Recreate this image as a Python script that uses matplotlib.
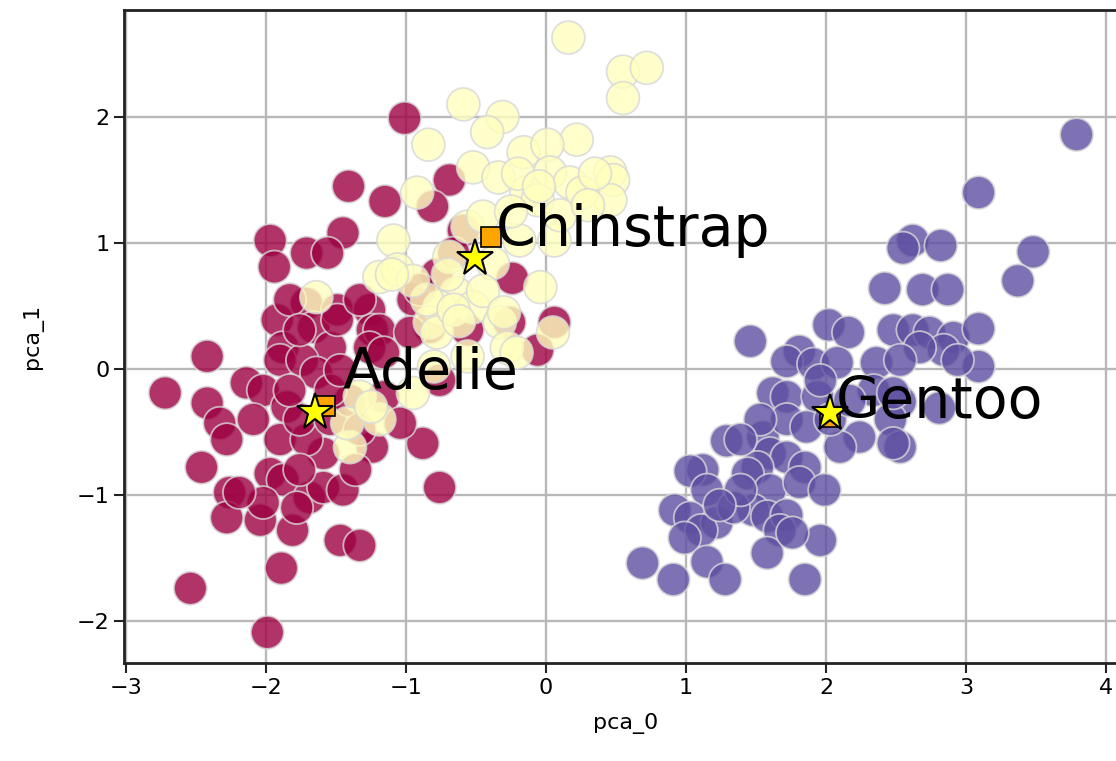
import numpy as np
import matplotlib
matplotlib.use("Agg")
import matplotlib.pyplot as plt

# PCA projection of the penguin measurements (pca_0, pca_1) per species
adelie_x = [-1.01, -1.41, -1.15, -0.69, -0.81, -1.45, -1.97, -1.71, -1.56, -1.94,
            -1.92, -1.71, -1.66, -1.49, -1.26, -1.24, -1.88, -2.42, -1.54, -2.72,
            -2.42, -2.33, -2.28, -2.46, -2.26, -2.28, -2.04, -1.81, -1.47, -1.33,
            -1.89, -2.54, -1.99, -2.14, -2.02, -2.09, -1.90, -1.85, -1.90, -1.74,
            -1.64, -1.97, -1.88, -1.69, -1.59, -1.45, -1.59, -1.71, -1.78, -2.02,
            -2.19, -1.16, -0.88, -1.24, -0.76, 0.06, -0.59, -0.24, -0.78, -0.95,
            -1.19, -0.26, -0.06, -0.83, -0.56, -0.76, -1.04, -1.26, -1.16, -0.97,
            -0.90, -0.66, -1.49, -1.76, -1.54, -1.40, -1.54, -1.76, -1.36, -1.33,
            -1.83, -1.47, -1.33, -1.83, -1.76]
adelie_y = [1.99, 1.45, 1.33, 1.50, 1.29, 1.08, 1.02, 0.92, 0.92, 0.81,
            0.39, 0.52, 0.33, 0.47, 0.47, 0.31, 0.17, 0.10, 0.17, -0.19,
            -0.27, -0.43, -0.56, -0.78, -0.98, -1.18, -1.20, -1.28, -1.36, -1.40,
            -1.58, -1.74, -2.09, -0.11, -0.17, -0.40, -0.56, -0.30, 0.07, 0.07,
            -0.03, -0.83, -0.88, -1.02, -0.94, -0.96, -0.67, -0.56, -1.10, -1.06,
            -0.98, -0.22, -0.59, -0.62, -0.94, 0.37, 1.10, 0.72, 0.75, 0.55,
            0.31, 0.37, 0.15, 0.33, 0.31, -0.09, -0.43, 0.17, 0.13, 0.29,
            0.63, 0.92, 0.39, -0.40, -0.40, -0.25, -0.17, -0.80, -0.80, -0.48,
            -0.17, -0.01, 0.55, 0.55, 0.31]

gentoo_x = [3.79, 3.09, 3.48, 3.37, 2.62, 2.82, 2.55, 2.42, 2.69, 2.87,
            1.46, 2.02, 2.16, 2.48, 2.62, 2.74, 2.91, 3.09, 3.09, 2.84,
            2.67, 2.36, 2.53, 1.81, 1.72, 1.91, 2.08, 1.62, 1.72, 1.94,
            2.34, 2.53, 2.81, 2.46, 2.24, 2.53, 2.10, 1.29, 1.55, 1.72,
            1.86, 1.60, 1.72, 1.85, 1.51, 1.44, 1.12, 1.03, 1.60, 1.81,
            1.99, 1.15, 0.92, 1.03, 1.22, 1.11, 1.48, 1.58, 1.72, 1.67,
            1.96, 1.58, 0.99, 1.15, 0.69, 0.91, 1.28, 1.85, 1.34, 1.76,
            2.48, 2.48, 2.03, 2.17, 1.96, 1.53, 1.39, 2.94, 1.39, 1.24]
gentoo_y = [1.86, 1.40, 0.93, 0.70, 1.02, 0.98, 0.96, 0.64, 0.63, 0.63,
            0.22, 0.35, 0.29, 0.31, 0.31, 0.29, 0.25, 0.32, 0.02, 0.15,
            0.17, 0.05, 0.07, 0.14, 0.06, 0.04, 0.05, -0.19, -0.22, -0.22,
            -0.17, -0.26, -0.31, -0.40, -0.54, -0.62, -0.62, -0.57, -0.54, -0.40,
            -0.46, -0.67, -0.70, -0.78, -0.78, -0.83, -0.80, -0.81, -0.96, -0.90,
            -0.96, -0.96, -1.12, -1.18, -1.22, -1.28, -1.12, -1.17, -1.16, -1.28,
            -1.36, -1.46, -1.34, -1.53, -1.54, -1.67, -1.67, -1.67, -1.10, -1.30,
            -0.59, -0.19, -0.40, -0.25, -0.09, -0.40, -0.56, 0.07, -0.96, -1.08]

chinstrap_x = [0.16, 0.55, 0.72, 0.55, -0.59, -0.31, -0.42, -0.84, -0.16, 0.22,
               0.01, -0.52, -0.34, 0.03, 0.17, 0.46, 0.48, -0.92, -0.14, 0.46,
               0.26, -1.09, -0.56, -0.45, -0.06, -0.69, -0.64, -0.76, -0.52, -0.83,
               -0.33, -0.04, 0.05, -0.28, -1.19, -1.06, -1.64, -0.38, -0.85, -0.78,
               -0.21, -0.56, -0.95, -1.33, -1.40, -1.19, -1.42, -0.66, -0.19, 0.06,
               0.10, -0.62, -0.45, -0.30, -0.95, -0.70, 0.35, -0.20, -0.05, 0.30,
               -0.25, -1.10, -0.80, -1.25]
chinstrap_y = [2.63, 2.36, 2.39, 2.15, 2.10, 2.00, 1.88, 1.78, 1.72, 1.82,
               1.78, 1.60, 1.52, 1.56, 1.48, 1.56, 1.50, 1.40, 1.40, 1.34,
               1.40, 1.02, 1.13, 1.21, 1.34, 0.89, 0.60, 0.49, 0.49, 0.37,
               0.37, 0.65, 0.29, 0.17, 0.73, 0.79, 0.57, 0.84, 0.55, 0.29,
               0.13, 0.10, -0.19, -0.22, -0.62, -0.40, -0.43, 0.47, 1.02, 1.02,
               1.22, 0.38, 0.62, 0.45, 0.70, 0.75, 1.55, 1.55, 1.45, 1.30,
               1.25, 0.75, 0.02, -0.30]

species = ["Adelie", "Chinstrap", "Gentoo"]
# species means (stars) and cluster centres (squares)
mean_x = [-1.65, -0.51, 2.03]
mean_y = [-0.34, 0.88, -0.35]
centre_x = [-1.58, -0.39, 2.03]
centre_y = [-0.29, 1.05, -0.38]
label_x = [-1.45, -0.36, 2.07]
label_y = [-0.16, 0.98, -0.39]

xs = np.array(adelie_x + gentoo_x + chinstrap_x)
ys = np.array(adelie_y + gentoo_y + chinstrap_y)
codes = np.array([0] * len(adelie_x) + [2] * len(gentoo_x) + [1] * len(chinstrap_x))

fig = plt.figure(figsize=(11.16, 7.61), dpi=100)
ax = fig.add_axes([124 / 1116, 98 / 761, 1003 / 1116, 653 / 761])

ax.scatter(xs, ys, c=codes, cmap="Spectral", vmin=0, vmax=2, s=560,
           alpha=0.8, edgecolors="#d8d8d8", linewidths=1.3, zorder=2)

ax.plot(centre_x, centre_y, ls="none", marker="s", markersize=15,
        mfc="orange", mec="black", mew=1.2, zorder=3)
ax.plot(mean_x, mean_y, ls="none", marker="*", markersize=28,
        mfc="yellow", mec="black", mew=1.5, zorder=4)

for name, tx, ty in zip(species, label_x, label_y):
    ax.text(tx, ty, name, fontsize=41, ha="left", va="baseline", zorder=5)

ax.set_xlim(-3.014, 4.15)
ax.set_ylim(-2.333, 2.849)
ax.set_xticks([-3, -2, -1, 0, 1, 2, 3, 4])
ax.set_yticks([-2, -1, 0, 1, 2])
ax.grid(True, color="#b8b8b8", linewidth=1.7, zorder=0)
ax.set_axisbelow(True)
ax.tick_params(labelsize=16, length=7, width=1.5, color="#222222")
for sp in ax.spines.values():
    sp.set_linewidth(2.0)
    sp.set_color("#222222")
ax.set_xlabel("pca_0", fontsize=16, labelpad=11)
ax.set_ylabel("pca_1", fontsize=16, labelpad=24)

fig.savefig("out.png", dpi=100)
